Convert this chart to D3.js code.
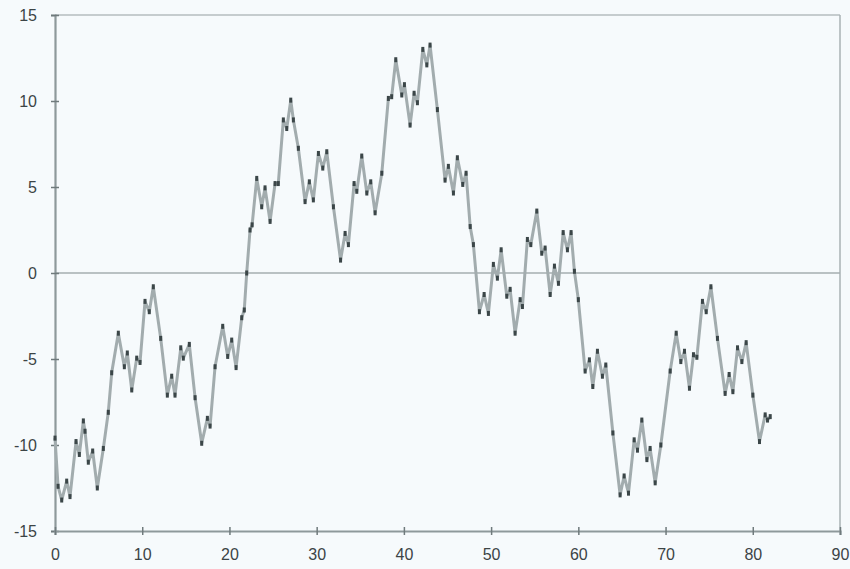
<!DOCTYPE html>
<html>
<head>
<meta charset="utf-8">
<script src="https://cdn.jsdelivr.net/npm/d3@7"></script>
<style>
  html, body { margin: 0; padding: 0; background: #f6fafc; }
  svg { display: block; }
  .tick text { font-family: "Liberation Sans", Arial, sans-serif; font-size: 16px; fill: #3c4446; }
</style>
</head>
<body>
<svg id="chart" width="850" height="569"></svg>
<script>
// Random-walk style trace: x positions and y values
const xs = [0, 0.35, 0.77, 1.34, 1.72, 2.41, 2.79, 3.25, 3.44, 3.82, 4.32, 4.85, 5.54, 6.11, 6.5, 7.26, 7.95, 8.29, 8.8, 9.37, 9.75,
  10.32, 10.81, 11.27, 12.12, 12.88, 13.38, 13.76, 14.42, 14.71, 15.4, 16.06, 16.82, 17.47, 17.78, 18.35, 19.23, 19.8, 20.26, 20.76,
  21.41, 21.7, 21.98, 22.36, 22.6, 23.13, 23.7, 24.08, 24.66, 25.23, 25.6, 26.18, 26.57, 27.03, 27.33, 27.9, 28.67, 29.16, 29.62,
  30.2, 30.7, 31.16, 31.92, 32.74, 33.26, 33.64, 34.29, 34.6, 35.17, 35.75, 36.2, 36.7, 37.47, 38.22, 38.6, 39.07, 39.76, 40.06,
  40.71, 41.17, 41.55, 42.17, 42.63, 43.0, 43.84, 44.72, 45.1, 45.68, 46.13, 46.75, 47.13, 47.6, 47.97, 48.66, 49.2, 49.69,
  50.26, 50.72, 51.15, 51.8, 52.18, 52.75, 53.33, 53.59, 54.16, 54.55, 55.24, 55.81, 56.19, 56.77, 57.26, 57.72, 58.26, 58.75,
  59.17, 59.55, 60.0, 60.78, 61.27, 61.66, 62.19, 62.76, 63.15, 63.96, 64.79, 65.25, 65.75, 66.4, 66.78, 67.28, 67.86, 68.23,
  68.81, 69.46, 70.53, 71.22, 71.75, 72.17, 72.74, 73.2, 73.59, 74.23, 74.66, 75.2, 75.95, 76.83, 77.29, 77.72, 78.25, 78.75,
  79.24, 80.01, 80.77, 81.42, 81.69, 82.0];
const ys = [-9.6, -12.4, -13.2, -12.1, -13.0, -9.8, -10.55, -8.6, -9.2, -11.0, -10.35, -12.5, -10.2, -8.1, -5.8, -3.5, -5.45, -4.65, -6.8, -4.95, -5.2,
  -1.65, -2.25, -0.8, -3.8, -7.1, -6.0, -7.1, -4.35, -4.95, -4.15, -7.25, -9.9, -8.45, -8.9, -5.45, -3.1, -4.85, -3.9, -5.5,
  -2.6, -2.15, 0, 2.5, 2.8, 5.5, 3.85, 4.95, 3.0, 5.2, 5.2, 8.9, 8.4, 10.05, 8.9, 7.25, 4.15, 5.3, 4.25,
  6.95, 6.1, 7.05, 3.85, 0.75, 2.3, 1.65, 5.2, 4.75, 6.8, 4.65, 5.3, 3.5, 5.8, 10.15, 10.25, 12.4, 10.35, 10.95,
  8.6, 10.45, 9.9, 13.0, 12.1, 13.25, 9.5, 5.4, 6.2, 4.65, 6.7, 5.15, 5.8, 2.7, 1.65, -2.25, -1.25, -2.35,
  0.5, -0.3, 1.35, -1.35, -0.95, -3.5, -1.55, -1.95, 1.95, 1.65, 3.6, 1.15, 1.45, -1.25, 0.4, -0.6, 2.35, 1.35,
  2.35, 0.1, -1.55, -5.7, -5.05, -6.6, -4.55, -6.0, -5.35, -9.3, -12.9, -11.8, -12.8, -9.7, -10.3, -8.55, -10.85, -10.2,
  -12.2, -10.0, -5.7, -3.5, -5.15, -4.55, -6.7, -4.75, -4.9, -1.65, -2.25, -0.8, -3.8, -7.0, -5.9, -6.9, -4.35, -5.15,
  -4.05, -7.1, -9.8, -8.25, -8.55, -8.35];

const xTicks = [0, 10, 20, 30, 40, 50, 60, 70, 80, 90];
const yTicks = [-15, -10, -5, 0, 5, 10, 15];

const svg = d3.select("#chart");
const plotLeft = 55, plotRight = 840, plotTop = 15, plotBottom = 531;

const x = d3.scaleLinear().domain([0, 90]).range([plotLeft, plotRight]);
const y = d3.scaleLinear().domain([-15, 15]).range([plotBottom, plotTop]);

// Frame: top and right edges
svg.append("line").attr("x1", plotLeft).attr("x2", plotRight).attr("y1", plotTop).attr("y2", plotTop)
  .attr("stroke", "#b4bdbf").attr("stroke-width", 1.5);
svg.append("line").attr("x1", plotRight).attr("x2", plotRight).attr("y1", plotTop).attr("y2", plotBottom)
  .attr("stroke", "#a9b2b4").attr("stroke-width", 1.5);

// Zero reference line
svg.append("line").attr("x1", plotLeft).attr("x2", plotRight).attr("y1", y(0)).attr("y2", y(0))
  .attr("stroke", "#a4aeb0").attr("stroke-width", 1.6);

// Axes (plain hyphen for negative labels)
const plain = d => String(d);
const yAxis = d3.axisLeft(y).tickValues(yTicks).tickSize(4).tickPadding(14).tickFormat(plain);
const gy = svg.append("g").attr("transform", `translate(${plotLeft},0)`).call(yAxis);
gy.select(".domain").attr("stroke", "#8e999b").attr("stroke-width", 2.2);
gy.selectAll(".tick line").attr("stroke", "#6f7a7c").attr("stroke-width", 1.5).attr("x2", 4).attr("x1", -4);

const xAxis = d3.axisBottom(x).tickValues(xTicks).tickSize(4).tickPadding(14).tickFormat(plain);
const gx = svg.append("g").attr("transform", `translate(0,${plotBottom})`).call(xAxis);
gx.select(".domain").attr("stroke", "#8e999b").attr("stroke-width", 2.2);
gx.selectAll(".tick line").attr("stroke", "#6f7a7c").attr("stroke-width", 1.5).attr("y1", -4).attr("y2", 4);

// Trace
const pts = xs.map((v, i) => [v, ys[i]]);
const line = d3.line().x(d => x(d[0])).y(d => y(d[1]));
svg.append("path").datum(pts).attr("d", line)
  .attr("fill", "none").attr("stroke", "#a2acae").attr("stroke-width", 3).attr("stroke-linejoin", "round");

// Darker vertex marks
svg.append("g").selectAll("rect").data(pts).join("rect")
  .attr("x", d => x(d[0]) - 1.5).attr("y", d => y(d[1]) - 2.5)
  .attr("width", 3).attr("height", 5)
  .attr("fill", "#3b4648");
</script>
</body>
</html>
